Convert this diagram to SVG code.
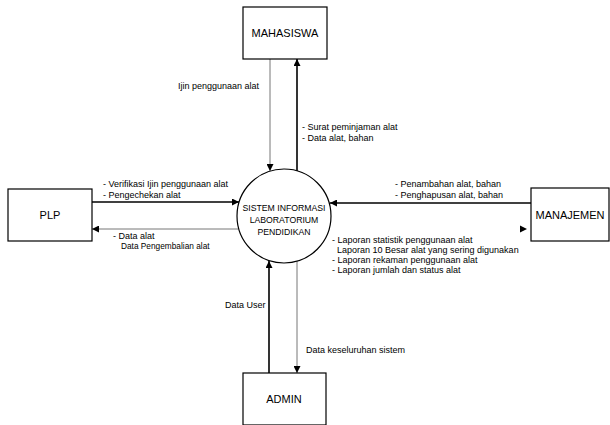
<svg xmlns="http://www.w3.org/2000/svg" width="610" height="425" viewBox="0 0 610 425">
<defs>
<style>
.box{fill:#fff;stroke:#000;stroke-width:1.2}
.proc{fill:#fff;stroke:#000;stroke-width:1.2}
.lbl{font-family:"Liberation Sans",Arial,sans-serif;font-size:11px;fill:#000;text-anchor:middle}
.ptx{font-family:"Liberation Sans",Arial,sans-serif;font-size:8.7px;fill:#000;text-anchor:middle}
.t{font-family:"Liberation Sans",Arial,sans-serif;font-size:9px;fill:#000}
.dark{fill:none;stroke:#000;stroke-width:1.6}
.gray{fill:none;stroke:#777;stroke-width:1}
</style>
<marker id="ah" viewBox="0 0 10 10" refX="10" refY="5" markerWidth="7" markerHeight="7" markerUnits="userSpaceOnUse" orient="auto">
<path d="M0,0 L10,5 L0,10 z" fill="#000"/>
</marker>
</defs>
<rect width="610" height="425" fill="#fff"/>
<g id="connectors">
<path class="gray" d="M270,59 V171" marker-end="url(#ah)"/>
<path class="dark" d="M297,171 V59" marker-end="url(#ah)"/>
<path class="dark" d="M92,202 H239" marker-end="url(#ah)"/>
<path class="gray" d="M238,229 H92" marker-end="url(#ah)"/>
<path class="dark" d="M531,203 H330" marker-end="url(#ah)"/>
<path d="M520,225.5 L527,229 L520,232.5 z" fill="#000"/>
<path class="dark" d="M269,373 V261" marker-end="url(#ah)"/>
<path class="gray" d="M297,261 V373" marker-end="url(#ah)"/>
</g>
<g id="labels">
<text class="t" x="178" y="89">Ijin penggunaan alat</text>
<text class="t" x="302" y="130">- Surat peminjaman alat</text>
<text class="t" x="302" y="141">- Data alat, bahan</text>
<text class="t" x="103" y="187">- Verifikasi Ijin penggunaan alat</text>
<text class="t" x="103" y="198">- Pengechekan alat</text>
<text class="t" x="113" y="239">- Data alat</text>
<text class="t" x="121" y="249" style="font-size:8.3px">Data Pengembalian alat</text>
<text class="t" x="395" y="187">- Penambahan alat, bahan</text>
<text class="t" x="395" y="198">- Penghapusan alat, bahan</text>
<text class="t" x="332" y="243">- Laporan statistik penggunaan alat</text>
<text class="t" x="337" y="253">Laporan 10 Besar alat yang sering digunakan</text>
<text class="t" x="332" y="263">- Laporan rekaman penggunaan alat</text>
<text class="t" x="332" y="273">- Laporan jumlah dan status alat</text>
<text class="t" x="225" y="308">Data User</text>
<text class="t" x="306" y="353">Data keseluruhan sistem</text>
</g>
<g id="mahasiswa">
<rect class="box" x="243" y="7" width="84" height="52"/>
<text class="lbl" x="285" y="37">MAHASISWA</text>
</g>
<g id="plp">
<rect class="box" x="8" y="189" width="84" height="52"/>
<text class="lbl" x="50" y="219">PLP</text>
</g>
<g id="manajemen">
<rect class="box" x="531" y="188" width="78" height="53"/>
<text class="lbl" x="570" y="219">MANAJEMEN</text>
</g>
<g id="admin">
<rect class="box" x="243" y="373" width="83" height="52"/>
<text class="lbl" x="284" y="403">ADMIN</text>
</g>
<g id="sistem">
<circle class="proc" cx="284" cy="216" r="47"/>
<text class="ptx" x="284" y="211">SISTEM INFORMASI</text>
<text class="ptx" x="284" y="223">LABORATORIUM</text>
<text class="ptx" x="284" y="235">PENDIDIKAN</text>
</g>
</svg>
